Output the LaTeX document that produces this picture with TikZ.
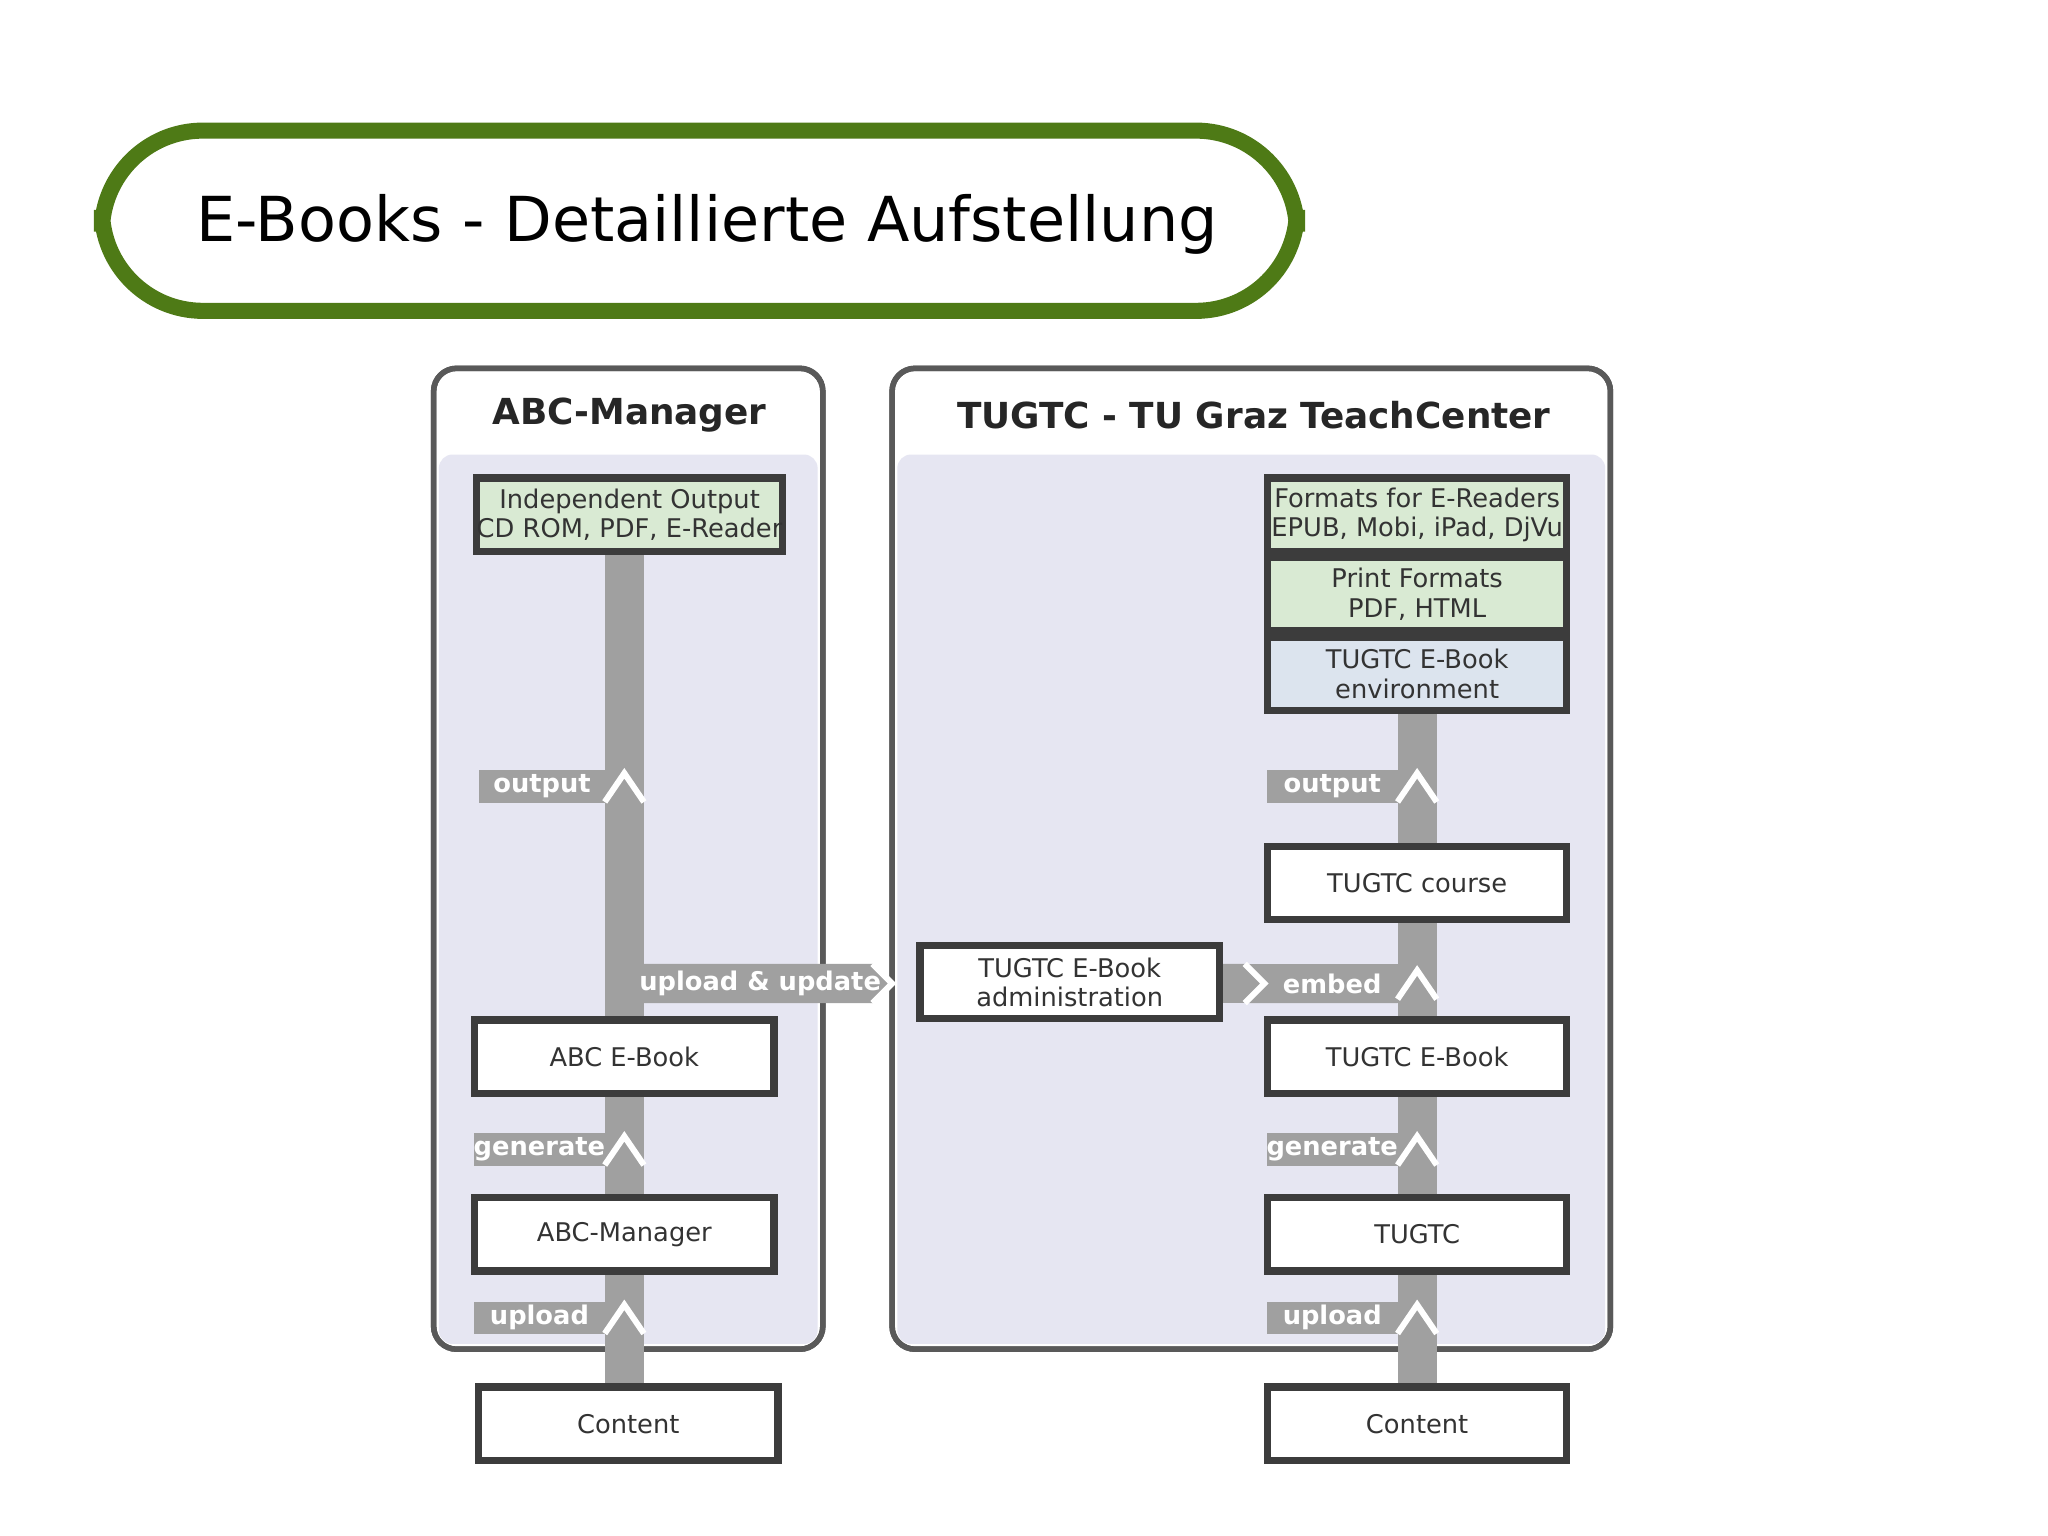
\documentclass[tikz,border=0pt]{standalone}
\usepackage{fontspec}
\setmainfont{DejaVu Sans}
\usetikzlibrary{backgrounds}
\definecolor{ttlgreen}{HTML}{4E7A16}
\definecolor{lav}{HTML}{E6E6F2}
\definecolor{barg}{HTML}{A0A0A0}
\definecolor{boxg}{HTML}{D9EAD3}
\definecolor{boxb}{HTML}{DCE4EE}
\definecolor{edge}{HTML}{3C3C3C}
\tikzset{
 bx/.style={draw=edge,line width=1.6pt,minimum width=2.29cm,minimum height=0.56cm,inner sep=0pt,align=center,font=\fontsize{5.6}{6.4}\selectfont,text=black!80},
 panel/.style={draw=black!65,line width=1.2pt,rounded corners=5pt,fill=white},
 bar/.style={draw=barg,line width=0.3cm},
 tab/.style={fill=barg,text=white,font=\bfseries\fontsize{5.6}{6}\selectfont,inner sep=0pt,minimum height=0.25cm},
 chev/.style={draw=white,line width=1.3pt},
 ptitle/.style={font=\bfseries\fontsize{7.8}{9}\selectfont,text=black!85}
}
\begin{document}
\begin{tikzpicture}[x=0.01cm,y=-0.01cm]
\useasboundingbox (0,0) rectangle (1568,1176);
% title
\draw[ttlgreen,line width=3.5pt,rounded corners=22pt] (78,100) rectangle (993,238);
\node[anchor=west,font=\fontsize{13.5}{16}\selectfont] (title) at (138,172) {E-Books - Detaillierte Aufstellung};
% panels
\draw[panel] (332,282) rectangle (630,1033);
\fill[lav,rounded corners=3pt] (336,348) rectangle (626,1029);
\draw[panel,fill=none] (332,282) rectangle (630,1033);
\node[ptitle] (lt) at (482,318) {ABC-Manager};
\draw[panel] (683,282) rectangle (1233,1033);
\fill[lav,rounded corners=3pt] (687,348) rectangle (1229,1029);
\draw[panel,fill=none] (683,282) rectangle (1233,1033);
\node[ptitle] (rt) at (960,318) {TUGTC - TU Graz TeachCenter};
% bars
\coordinate (lb) at (478,0);
\coordinate (rb) at (1085,0);
\fill[barg] (463,422) rectangle (493,1062);
\fill[barg] (1070,545) rectangle (1100,1062);
\fill[barg] (493,738) -- (670,738) -- (685,753) -- (670,768) -- (493,768) -- cycle;
\fill[barg] (933,738) -- (955,738) -- (970,753) -- (1070,753) -- (1070,768) -- (955,768) -- cycle;
\fill[barg] (933,738) rectangle (1070,768);
% nodes
\node[bx,fill=boxg] (io) at (482,394) {Independent Output\\CD ROM, PDF, E-Reader};
\node[bx,fill=white] (abce) at (478,809) {ABC E-Book};
\node[bx,fill=white] (abcm) at (478,945) {ABC-Manager};
\node[bx,fill=white] (cl) at (481,1090) {Content};
\node[bx,fill=boxg] (fe) at (1085,394) {Formats for E-Readers\\EPUB, Mobi, iPad, DjVu};
\node[bx,fill=boxg] (pf) at (1085,455) {Print Formats\\PDF, HTML};
\node[bx,fill=boxb] (env) at (1085,516) {TUGTC E-Book\\environment};
\node[bx,fill=white] (crs) at (1085,676) {TUGTC course};
\node[bx,fill=white] (adm) at (819,752) {TUGTC E-Book\\administration};
\node[bx,fill=white] (te) at (1085,809) {TUGTC E-Book};
\node[bx,fill=white] (tu) at (1085,945) {TUGTC};
\node[bx,fill=white] (cr) at (1085,1090) {Content};
% tabs
\node[tab,minimum width=0.96cm] (t1) at (415,602) {output};
\node[tab,minimum width=1.0cm] (t2) at (413,880) {generate};
\node[tab,minimum width=1.0cm] (t3) at (413,1009) {upload};
\node[tab,minimum width=1.0cm] (t4) at (1020,602) {output};
\node[tab,minimum width=1.0cm] (t5) at (1020,880) {generate};
\node[tab,minimum width=1.0cm] (t6) at (1020,1009) {upload};
\node[tab,fill=none] (t7) at (582,753) {upload \& update};
\node[tab,fill=none] (t8) at (1020,753) {embed};
% chevrons
\foreach \x/\y in {478/602,478/880,478/1009,1085/602,1085/753,1085/880,1085/1009}
  \draw[chev] (\x-15,\y+12) -- (\x,\y-10) -- (\x+15,\y+12);
\draw[chev] (668,738) -- (683,753) -- (668,768);
\draw[chev] (953,738) -- (968,753) -- (953,768);
\end{tikzpicture}
\end{document}
